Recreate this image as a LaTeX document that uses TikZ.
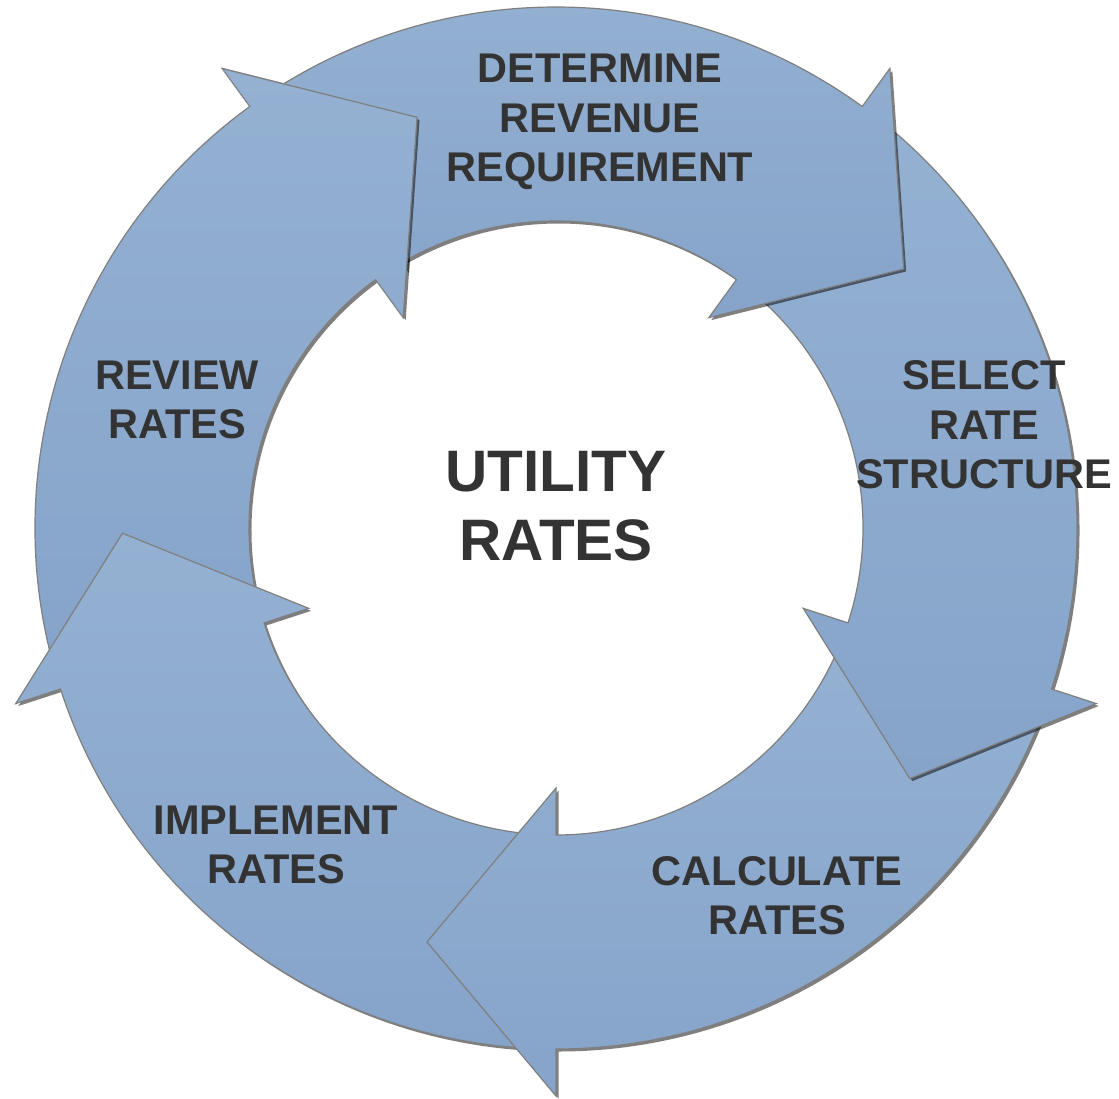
\documentclass[tikz,border=0pt]{standalone}
\usepackage{fontspec}
\setmainfont{Liberation Sans}
\usetikzlibrary{shadows}
\definecolor{arrowtop}{HTML}{94B1D2}
\definecolor{arrowbottom}{HTML}{86A4CA}
\definecolor{strokegray}{HTML}{7F7F7F}
\definecolor{textgray}{HTML}{333333}
\tikzset{
  arrowplain/.style={draw=strokegray, line width=1.2pt, line join=miter,
    top color=arrowtop, bottom color=arrowbottom},
  arrowshape/.style={arrowplain,
    drop shadow={shadow xshift=2.5pt, shadow yshift=-2.5pt, opacity=0.5, fill=black}},
  lbl/.style={font=\fontsize{41.5}{49.5}\selectfont\bfseries, text=textgray, align=center},
  ctrlbl/.style={font=\fontsize{58.5}{69}\selectfont\bfseries, text=textgray, align=center}
}
\newcommand\ringarrow[2][arrowshape]{%
  \pgfmathsetmacro\tailang{#2+69}%
  \pgfmathsetmacro\tipang{#2-17.31}%
  \path[#1] (\tailang:521) arc[start angle=\tailang, end angle=#2, radius=521]
    -- (#2:568) -- (\tipang:433.6) -- (#2:260) -- (#2:307)
    arc[start angle=#2, end angle=\tailang, radius=307] -- cycle;}
\begin{document}
\begin{tikzpicture}[x=1pt,y=1pt]
\fill[white] (0,0) rectangle (1119,-1098);
\useasboundingbox (0,0) rectangle (1119,-1098);
\begin{scope}[shift={(556,-528)}]
  \ringarrow{126}
  \ringarrow{198}
  \ringarrow{270}
  \ringarrow{342}
  \ringarrow{54}
  % head of the REVIEW arrow lies over the tail of the DETERMINE arrow
  \begin{scope}
    \clip (0,0) -- (120:720) -- (100:720) -- (80:720) -- cycle;
    \fill[black, opacity=0.5, shift={(2.5,-2.5)}] (126:568) -- (108.69:433.6) -- (126:260) -- cycle;
  \end{scope}
  \begin{scope}
    \clip (0,0) -- (126:720) -- (100:720) -- (80:720) -- cycle;
    \ringarrow[arrowplain]{126}
  \end{scope}
\end{scope}
\node[lbl] (det) at (600,-122) {DETERMINE\\REVENUE\\REQUIREMENT};
\node[lbl] (sel) at (984,-425) {SELECT\\RATE\\STRUCTURE};
\node[lbl] (calc) at (777,-895.5) {CALCULATE\\RATES};
\node[lbl] (impl) at (276,-845) {IMPLEMENT\\RATES};
\node[lbl] (rev) at (177,-400) {REVIEW\\RATES};
\node[ctrlbl] (ctr) at (556,-506) {UTILITY\\RATES};
\end{tikzpicture}
\end{document}
